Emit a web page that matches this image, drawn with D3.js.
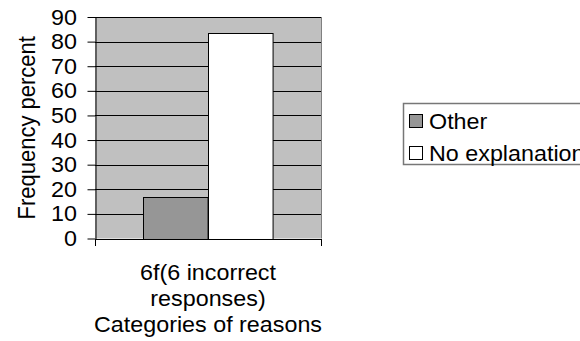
<!DOCTYPE html>
<html>
<head>
<meta charset="utf-8">
<script src="https://cdn.jsdelivr.net/npm/d3@7/dist/d3.min.js"></script>
<style>
  html, body { margin: 0; padding: 0; background: #fff; }
  svg { display: block; font-family: "Liberation Sans", Arial, sans-serif; }
</style>
</head>
<body>
<svg id="chart" width="580" height="341"></svg>
<script>
// Categories, series and values
const categories = ["6f(6 incorrect responses)"];
const categoryLines = [["6f(6 incorrect", "responses)"]];
const seriesNames = ["Other", "No explanation"];
const seriesColors = ["#969696", "#ffffff"];
const otherValues = [16.67];
const noExplanationValues = [83.33];
const yTickValues = [0, 10, 20, 30, 40, 50, 60, 70, 80, 90];
const yTitle = "Frequency percent";
const xTitle = "Categories of reasons";

const seriesValues = [otherValues, noExplanationValues];

const svg = d3.select("#chart");
const plot = { left: 95, right: 321, top: 17, bottom: 238.5 };
const fontSize = 22;
const stretch = 1.06; // slightly wide lettering

// Place a text at (px, py) with the wide lettering applied in screen space
function placeText(sel, px, py, extra) {
  sel.attr("x", 0).attr("y", 0)
    .attr("transform", `translate(${px},${py}) scale(${stretch},1)${extra || ""}`);
  return sel;
}

const y = d3.scaleLinear().domain([0, 90]).range([plot.bottom, plot.top]);
const x = d3.scaleBand().domain(categories).range([plot.left, plot.right]);

// Plot area background
svg.append("rect")
  .attr("x", plot.left).attr("y", plot.top)
  .attr("width", plot.right - plot.left).attr("height", plot.bottom - plot.top)
  .attr("fill", "#c0c0c0");

// Horizontal gridlines
svg.append("g").selectAll("line")
  .data(yTickValues.filter(d => d > 0))
  .join("line")
  .attr("x1", plot.left).attr("x2", plot.right)
  .attr("y1", d => Math.round(y(d)) + 0.5).attr("y2", d => Math.round(y(d)) + 0.5)
  .attr("stroke", "#000").attr("stroke-width", 1);

// Right edge of the plot area
svg.append("line")
  .attr("x1", plot.right + 0.5).attr("x2", plot.right + 0.5)
  .attr("y1", plot.top).attr("y2", plot.bottom)
  .attr("stroke", "#808080");

// Bars: one group per category, one bar per series (gap width 150%)
categories.forEach((cat, ci) => {
  const bw = x.bandwidth();
  const barW = bw / (seriesNames.length + 1.5);
  const gap = bw - barW * seriesNames.length;
  const inner = d3.scaleBand().domain(seriesNames)
    .range([x(cat) + gap / 2, x(cat) + bw - gap / 2]);
  svg.append("g").selectAll("rect")
    .data(seriesNames.map((s, si) => ({ s, v: seriesValues[si][ci], c: seriesColors[si] })))
    .join("rect")
    .attr("x", d => Math.round(inner(d.s)) + 0.5)
    .attr("y", d => Math.round(y(d.v)) + 0.5)
    .attr("width", inner.bandwidth())
    .attr("height", d => Math.round(y(0)) - Math.round(y(d.v)))
    .attr("fill", d => d.c)
    .attr("stroke", "#000").attr("stroke-width", 1);
});

// Y axis
const yAxis = svg.append("g")
  .attr("transform", `translate(${plot.left + 0.5},0)`)
  .call(d3.axisLeft(y).tickValues(yTickValues).tickSize(8).tickPadding(9.5).tickSizeOuter(0));
yAxis.select(".domain").attr("stroke", "#000");
yAxis.selectAll(".tick line").attr("stroke", "#000");
yAxis.selectAll(".tick text")
  .attr("font-size", fontSize).attr("font-family", "Liberation Sans, Arial, sans-serif")
  .attr("fill", "#000")
  .attr("transform", `scale(${stretch},1)`);

// X axis line with ticks at category boundaries
svg.append("line")
  .attr("x1", plot.left).attr("x2", plot.right + 1)
  .attr("y1", Math.round(y(0)) + 0.5).attr("y2", Math.round(y(0)) + 0.5)
  .attr("stroke", "#000");
const boundaries = [plot.left, plot.right];
svg.append("g").selectAll("line")
  .data(boundaries)
  .join("line")
  .attr("x1", d => d + 0.5).attr("x2", d => d + 0.5)
  .attr("y1", Math.round(y(0))).attr("y2", Math.round(y(0)) + 7)
  .attr("stroke", "#000");

// Category labels
categories.forEach((cat, ci) => {
  const cx = x(cat) + x.bandwidth() / 2;
  categoryLines[ci].forEach((line, i) => {
    placeText(svg.append("text"), cx, 280 + i * 25.5)
      .attr("text-anchor", "middle")
      .attr("font-size", fontSize)
      .text(line);
  });
});

// Axis titles
placeText(svg.append("text"), (plot.left + plot.right) / 2, 331.5)
  .attr("text-anchor", "middle").attr("font-size", fontSize)
  .text(xTitle);
placeText(svg.append("text"), 35, (plot.top + plot.bottom) / 2, " rotate(-90)")
  .attr("text-anchor", "middle").attr("font-size", fontSize)
  .text(yTitle);

// Legend
const legend = svg.append("g");
legend.append("rect")
  .attr("x", 403.5).attr("y", 103.5).attr("width", 200).attr("height", 61)
  .attr("fill", "#fff").attr("stroke", "#777").attr("stroke-width", 1.5);
seriesNames.forEach((s, i) => {
  const top = 114 + i * 32;
  legend.append("rect")
    .attr("x", 409.5).attr("y", top + 0.5).attr("width", 13).attr("height", 13)
    .attr("fill", seriesColors[i]).attr("stroke", "#000");
  placeText(legend.append("text"), 429, top + 14.5)
    .attr("font-size", fontSize)
    .text(s);
});
</script>
</body>
</html>
